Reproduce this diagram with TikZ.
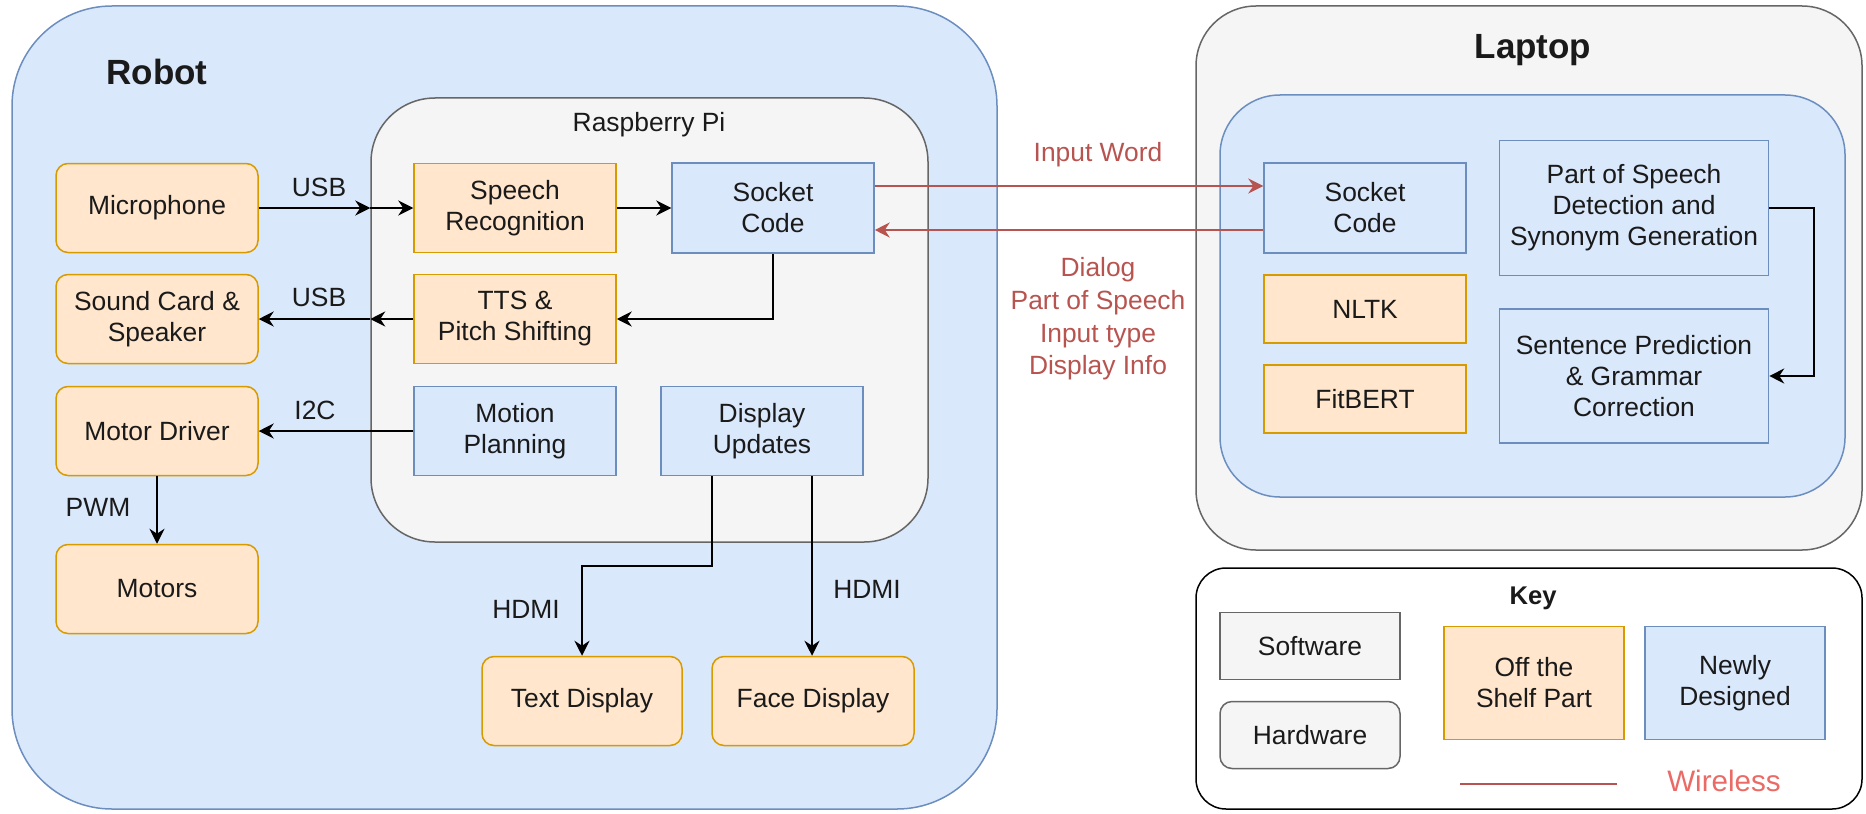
\documentclass[tikz,border=0pt]{standalone}
\usepackage{fontspec}
\setmainfont{Liberation Sans}
\usetikzlibrary{arrows.meta,calc}
\definecolor{bluefill}{HTML}{DAE8FC}
\definecolor{blueline}{HTML}{6C8EBF}
\definecolor{orfill}{HTML}{FFE6CC}
\definecolor{orline}{HTML}{D79B00}
\definecolor{grayfill}{HTML}{F5F5F5}
\definecolor{grayline}{HTML}{666666}
\definecolor{wire}{HTML}{B85450}
\definecolor{wiretext}{HTML}{EA6B66}
\definecolor{ink}{HTML}{1A1A1A}

\begin{document}
\begin{tikzpicture}[x=0.5pt,y=-0.5pt,
  every node/.style={font=\fontsize{13.2}{15.5}\selectfont, align=center, inner sep=0pt, text=ink},
  part/.style={draw, line width=0.75pt, minimum width=101pt, minimum height=44.5pt},
  hwpart/.style={part, rounded corners=6pt},
  swpart/.style={part},
  offshelf/.style={fill=orfill, draw=orline},
  newdes/.style={fill=bluefill, draw=blueline},
  plain/.style={fill=grayfill, draw=grayline},
  frame/.style={draw, line width=0.75pt},
  lbl/.style={text=ink},
  arr/.style={draw=black, line width=0.8pt, -{Stealth[length=7.5pt,width=7.5pt,inset=2.5pt]}},
  warr/.style={draw=wire, line width=0.8pt, -{Stealth[length=7.5pt,width=7.5pt,inset=2.5pt]}},
  wtext/.style={text=wire, font=\fontsize{13.2}{16.3}\selectfont},
]
\useasboundingbox (0,0) rectangle (1866,813);

% ---- containers ----
\node[frame, newdes, rounded corners=50pt, minimum width=492.5pt, minimum height=401.5pt] (robot) at (504.5,407.5) {};
\node[frame, plain, rounded corners=32pt, minimum width=278.5pt, minimum height=222pt] (rpi) at (649.5,320) {};
\node[frame, plain, rounded corners=30pt, minimum width=333pt, minimum height=272pt] (laptop) at (1529,278) {};
\node[frame, newdes, rounded corners=30pt, minimum width=312.5pt, minimum height=201pt] (linner) at (1532.5,296) {};
\node[frame, draw=black, fill=white, rounded corners=15pt, minimum width=333pt, minimum height=120.5pt] (key) at (1529,688.5) {};

\node[font=\fontsize{17.5}{20}\bfseries] (robottitle) at (157,72) {Robot};
\node (rpititle) at (649,125) {Raspberry Pi};
\node[font=\fontsize{17.5}{20}\bfseries] (laptoptitle) at (1533,50) {Laptop};
\node[font=\fontsize{12.8}{14}\bfseries] (keytitle) at (1533,598) {Key};

% ---- robot hardware ----
\node[hwpart, offshelf] (mic) at (157,208) {Microphone};
\node[hwpart, offshelf] (snd) at (157,319) {Sound Card \&\\Speaker};
\node[hwpart, offshelf] (mdrv) at (157,431) {Motor Driver};
\node[hwpart, offshelf] (motors) at (157,589) {Motors};
\node[hwpart, offshelf, minimum width=100pt] (txt) at (582,701) {Text Display};
\node[hwpart, offshelf] (face) at (813,701) {Face Display};

% ---- raspberry pi software ----
\node[swpart, offshelf] (sr) at (515,208) {Speech\\Recognition};
\node[swpart, offshelf] (tts) at (515,319) {TTS \&\\Pitch Shifting};
\node[swpart, newdes] (mp) at (515,431) {Motion\\Planning};
\node[swpart, newdes, minimum height=45pt] (sockr) at (773,208) {Socket\\Code};
\node[swpart, newdes] (du) at (762,431) {Display\\Updates};

% ---- laptop software ----
\node[swpart, newdes, minimum height=45pt] (lsock) at (1365,208) {Socket\\Code};
\node[swpart, offshelf, minimum height=34pt] (nltk) at (1365,309) {NLTK};
\node[swpart, offshelf, minimum height=34pt] (fitbert) at (1365,399) {FitBERT};
\node[swpart, newdes, minimum width=134.5pt, minimum height=67.5pt] (pos) at (1634,208) {Part of Speech\\Detection and\\Synonym Generation};
\node[swpart, newdes, minimum width=134.5pt, minimum height=67pt] (sent) at (1634,376) {Sentence Prediction\\\& Grammar\\Correction};

% ---- key ----
\node[swpart, plain, minimum width=90pt, minimum height=33.5pt] (ksw) at (1310,646) {Software};
\node[hwpart, plain, minimum width=90pt, minimum height=33.5pt] (khw) at (1310,735) {Hardware};
\node[swpart, offshelf, minimum width=90pt, minimum height=56.5pt] (kos) at (1534,683) {Off the\\Shelf Part};
\node[swpart, newdes, minimum width=90pt, minimum height=56.5pt] (knd) at (1735,683) {Newly\\Designed};
\coordinate (kw1) at (1460,784);
\coordinate (kw2) at (1617,784);
\draw[draw=wire, line width=0.8pt] (kw1) -- (kw2);
\node[text=wiretext, font=\fontsize{14.8}{17}\selectfont] (kwt) at (1724,781) {Wireless};

% ---- robot connectors ----
\coordinate (b1) at (rpi.west |- mic.east);
\coordinate (b2) at (rpi.west |- tts.west);
\draw[arr] (mic.east) -- (b1);
\draw[arr] (b1) -- (sr.west);
\draw[arr] (tts.west) -- (b2);
\draw[arr] (b2) -- (snd.east);
\draw[arr] (mp.west) -- (mdrv.east);
\draw[arr] (mdrv.south) -- (motors.north);
\draw[arr] (sr.east) -- (sockr.west);
\draw[arr] (sockr.south) |- (tts.east);
\coordinate (hj) at (582,566);
\draw[arr] ([xshift=-25pt]du.south) |- (hj) -- (txt.north);
\draw[arr] ([xshift=25pt]du.south) -- ([xshift=25pt]du.south |- face.north);

\node[lbl] (usb1) at (319,187) {USB};
\node[lbl] (usb2) at (319,297) {USB};
\node[lbl] (i2c) at (315,410) {I2C};
\node[lbl] (pwm) at (98,507) {PWM};
\node[lbl] (hdmi1) at (526,609) {HDMI};
\node[lbl] (hdmi2) at (867,589) {HDMI};

% ---- wireless link ----
\draw[warr] ([yshift=11pt]sockr.east) -- ([yshift=11pt]lsock.west);
\draw[warr] ([yshift=-11pt]lsock.west) -- ([yshift=-11pt]sockr.east);
\node[wtext] (inword) at (1098,155) {Input Word};
\node[wtext] (reply) at (1098,319) {Dialog\\Part of Speech\\Input type\\Display Info};

% ---- laptop connector ----
\draw[arr] (pos.east) -- ++(22.5pt,0) |- (sent.east);
\end{tikzpicture}
\end{document}
